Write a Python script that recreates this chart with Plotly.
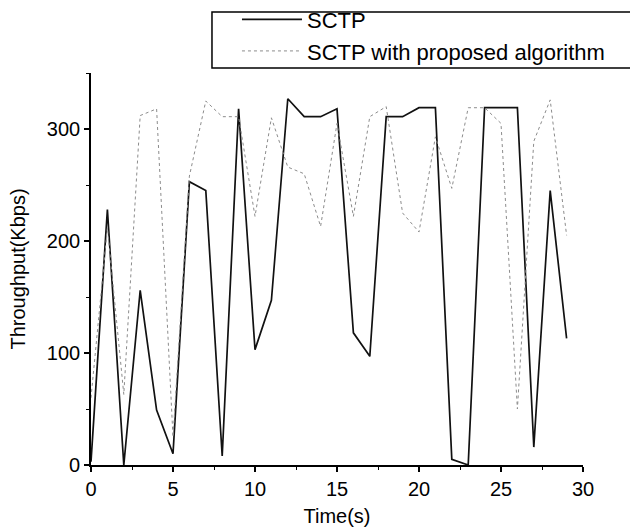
import plotly.graph_objects as go

time_s = list(range(30))
sctp = [3, 228, 0, 156, 49, 10, 253, 245, 8, 318,
        103, 147, 327, 311, 311, 318, 118, 97, 311, 311,
        319, 319, 5, 0, 319, 319, 319, 16, 245, 113]
sctp_proposed = [60, 212, 63, 312, 318, 25, 258, 325, 311, 311,
                 222, 310, 266, 260, 213, 305, 222, 311, 320, 225,
                 208, 293, 247, 319, 319, 305, 50, 289, 326, 205]

x_ticks = [0, 5, 10, 15, 20, 25, 30]
y_ticks = [0, 100, 200, 300]

FONT = "Liberation Sans, Arial, sans-serif"

fig = go.Figure()
fig.add_trace(go.Scatter(x=time_s, y=sctp, mode="lines", name="SCTP",
                         line=dict(color="#111111", width=1.7)))
fig.add_trace(go.Scatter(x=time_s, y=sctp_proposed, mode="lines",
                         name="SCTP with proposed algorithm",
                         line=dict(color="#8c8c8c", width=1.0, dash="dot")))

axis_common = dict(showline=True, linecolor="black", linewidth=1.6,
                   ticks="outside", ticklen=5, tickwidth=1.6, tickcolor="black",
                   showgrid=False, zeroline=False, mirror=False,
                   tickfont=dict(family=FONT, size=20, color="black"))

fig.update_xaxes(range=[0, 30], tickvals=x_ticks,
                 minor=dict(ticks="outside", ticklen=3, tickwidth=1.2,
                            tickcolor="black", dtick=2.5, tick0=0),
                 title=dict(text="Time(s)", font=dict(family=FONT, size=20, color="black"),
                            standoff=10),
                 **axis_common)
fig.update_yaxes(range=[0, 350], tickvals=y_ticks,
                 minor=dict(ticks="outside", ticklen=3, tickwidth=1.2,
                            tickcolor="black", dtick=50, tick0=0),
                 title=dict(text="Throughput(Kbps)", font=dict(family=FONT, size=20, color="black"),
                            standoff=16),
                 **axis_common)

# legend frame (the original box runs off the right edge of the image)
fig.add_shape(type="rect", xref="paper", yref="paper",
              x0=0.2459, x1=1.25, y0=1.0128, y1=1.1556,
              line=dict(color="black", width=1.5), fillcolor="white", layer="below")

fig.update_layout(
    width=630, height=531,
    margin=dict(l=91, r=47, t=73, b=66, autoexpand=False),
    plot_bgcolor="white", paper_bgcolor="white",
    showlegend=True,
    legend=dict(x=0.2967, y=1.19, xanchor="left", yanchor="top",
                bgcolor="rgba(0,0,0,0)", borderwidth=0,
                font=dict(family=FONT, size=22, color="black"),
                itemwidth=60, tracegroupgap=0),
)

fig.write_html("out.html")
